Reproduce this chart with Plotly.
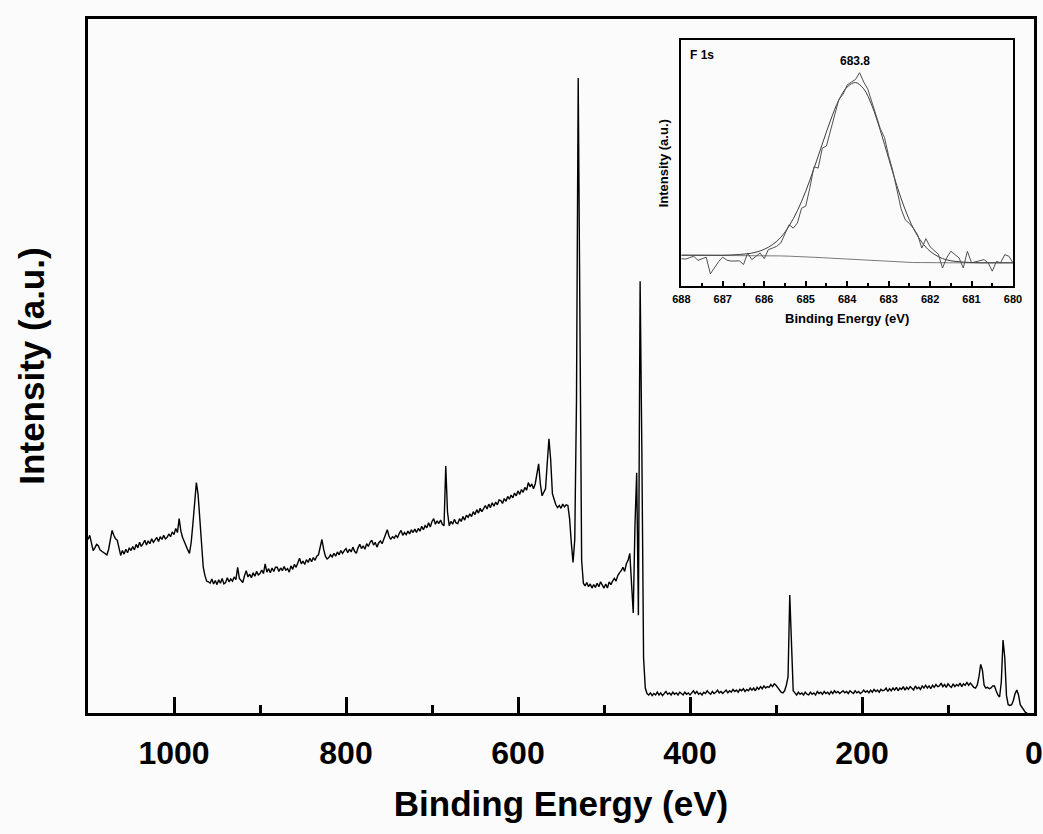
import plotly.graph_objects as go

# ---- Survey spectrum: intensity (a.u.) read at 2 eV steps from 1100 eV down to 8 eV ----
survey_counts = [
    25.0, 25.6, 24.5, 23.4, 23.8, 24.3, 24.1, 23.5, 23.3, 23.1,   # 1100-1082
    22.9, 22.8, 23.6, 25.2, 26.3, 25.6, 25.1, 24.9, 23.6, 22.7,   # 1080-1062
    23.4, 22.9, 23.6, 23.1, 23.8, 23.4, 24.0, 23.5, 24.3, 23.8,   # 1060-1042
    24.6, 24.0, 24.4, 24.9, 24.2, 24.8, 24.4, 25.1, 24.6, 24.9,   # 1040-1022
    25.3, 24.7, 25.4, 25.0, 25.6, 25.1, 25.3, 25.8, 25.4, 26.1,   # 1020-1002
    25.7, 26.6, 26.0, 28.0, 26.2, 25.3, 24.6, 24.0, 23.5, 23.0,   # 1000-982
    24.6, 27.3, 30.5, 33.2, 31.5, 27.5, 24.0, 21.0, 19.8, 19.0,   # 980-962
    18.9, 18.7, 19.3, 18.6, 19.1, 18.5, 19.2, 18.7, 19.4, 18.6,   # 960-942
    18.8, 19.5, 18.9, 19.3, 19.0, 19.6, 19.2, 21.0, 19.4, 19.0,   # 940-922
    18.8, 19.8, 20.5, 19.6, 20.0, 19.5, 20.2, 19.7, 20.4, 19.9,   # 920-902
    20.1, 20.6, 20.1, 21.5, 20.3, 20.8, 20.2, 20.9, 20.4, 21.0,   # 900-882
    21.0, 20.4, 20.9, 20.5, 21.1, 20.6, 20.8, 20.3, 21.2, 20.7,   # 880-862
    21.4, 21.0, 21.6, 22.3, 21.5, 21.9, 21.4, 22.1, 21.7, 22.3,   # 860-842
    21.8, 22.4, 22.0, 22.6, 22.8, 23.8, 25.0, 23.6, 22.6, 22.2,   # 840-822
    22.4, 22.8, 22.5, 23.0, 22.6, 23.2, 22.8, 23.4, 23.0, 23.4,   # 820-802
    23.7, 23.1, 23.6, 23.2, 23.9, 23.3, 23.0, 23.8, 24.3, 23.7,   # 800-782
    24.1, 23.6, 24.4, 24.0, 24.6, 24.9, 24.2, 24.6, 23.9, 24.5,   # 780-762
    24.8, 24.4, 25.0, 25.6, 26.4, 25.5, 25.0, 25.4, 25.2, 25.6,   # 760-742
    25.3, 25.9, 26.3, 25.6, 26.0, 25.7, 26.2, 25.8, 26.4, 26.0,   # 740-722
    26.5, 26.0, 26.6, 26.2, 26.9, 26.4, 27.0, 26.7, 27.4, 26.8,   # 720-702
    27.6, 28.0, 27.2, 27.7, 27.3, 27.8, 27.2, 27.0, 35.6, 29.0,   # 700-682
    27.0, 27.6, 27.2, 27.9, 27.4, 27.3, 28.0, 27.6, 28.3, 27.8,   # 680-662
    28.5, 28.2, 28.7, 28.3, 29.0, 28.6, 29.3, 28.8, 29.5, 29.0,   # 660-642
    29.5, 29.9, 29.4, 30.1, 29.6, 30.3, 29.8, 30.4, 30.0, 30.7,   # 640-622
    30.6, 30.2, 30.9, 30.5, 31.2, 30.8, 31.4, 31.0, 31.7, 31.3,   # 620-602
    32.0, 31.5, 32.2, 31.8, 32.5, 32.1, 33.2, 32.6, 33.0, 32.3,   # 600-582
    33.0, 34.5, 35.9, 33.0, 31.3, 31.8, 32.3, 36.0, 39.5, 36.5,   # 580-562
    31.6, 30.8, 30.0, 29.6, 29.9, 29.5, 30.1, 29.7, 30.0, 29.9,   # 560-542
    28.0, 24.5, 21.7, 25.0, 45.0, 91.5, 55.0, 22.0, 18.7, 18.3,   # 540-522
    18.8, 18.2, 18.6, 18.0, 18.5, 18.1, 18.7, 18.2, 18.9, 18.4,   # 520-502
    18.0, 18.6, 18.0, 18.9, 18.5, 19.0, 19.4, 19.0, 19.8, 20.2,   # 500-482
    20.5, 21.0, 20.4, 21.5, 22.0, 23.0, 18.5, 14.4, 27.0, 34.6,   # 480-462
    14.1, 62.2, 38.0, 8.0, 3.6, 2.8, 2.6, 2.9, 2.5, 2.8,          # 460-442
    2.6, 3.0, 2.6, 2.9, 2.5, 2.8, 3.1, 2.7, 2.9, 2.6,             # 440-422
    3.0, 2.7, 2.9, 2.6, 3.0, 2.8, 2.6, 3.0, 2.7, 2.9,             # 420-402
    2.6, 2.9, 3.2, 2.8, 3.1, 2.7, 2.9, 2.6, 3.0, 2.8,             # 400-382
    3.2, 2.9, 2.7, 3.1, 2.8, 3.0, 3.3, 2.9, 3.1, 2.8,             # 380-362
    3.0, 3.3, 2.9, 3.2, 3.0, 3.4, 3.1, 3.3, 3.0, 3.4,             # 360-342
    3.2, 3.5, 3.1, 3.4, 3.2, 3.6, 3.3, 3.6, 3.2, 3.7,             # 340-322
    3.4, 3.8, 3.5, 3.9, 3.6, 3.8, 3.7, 4.1, 3.8, 4.2,             # 320-302
    4.0, 3.6, 3.3, 3.0, 2.9, 3.2, 4.0, 5.2, 17.0, 9.0,            # 300-282
    3.2, 2.9, 2.6, 3.0, 2.7, 2.9, 2.6, 3.0, 2.7, 2.6,             # 280-262
    3.0, 2.7, 2.9, 2.6, 3.1, 2.8, 3.0, 2.7, 3.1, 2.8,             # 260-242
    3.0, 2.7, 3.1, 2.8, 3.2, 2.9, 3.1, 2.8, 3.0, 3.2,             # 240-222
    2.9, 3.1, 2.8, 3.2, 3.0, 2.8, 3.2, 2.9, 3.1, 2.8,             # 220-202
    3.0, 3.3, 3.0, 3.2, 2.9, 3.3, 3.0, 3.4, 3.1, 3.3,             # 200-182
    3.0, 3.4, 3.2, 3.3, 3.6, 3.1, 3.5, 3.2, 3.6, 3.3,             # 180-162
    3.7, 3.2, 3.6, 3.4, 3.8, 3.3, 3.7, 3.4, 3.8, 3.5,             # 160-142
    3.3, 3.9, 3.5, 3.7, 3.4, 3.9, 3.6, 4.0, 3.6, 3.9,             # 140-122
    3.5, 4.0, 3.7, 4.1, 3.8, 3.9, 4.3, 3.8, 4.1, 3.7,             # 120-102
    4.2, 3.9, 3.7, 4.2, 3.8, 4.1, 3.9, 4.3, 3.8, 4.2,             # 100-82
    4.0, 4.4, 4.0, 4.3, 3.9, 3.7, 3.6, 4.0, 5.2, 7.0,             # 80-62
    6.2, 4.0, 3.6, 3.7, 3.5, 3.6, 3.9, 3.9, 3.2, 2.6,             # 60-42
    2.3, 4.5, 10.5, 8.0, 2.5, 1.2, 1.1, 1.2, 1.8, 2.8,            # 40-22
    3.3, 2.6, 1.2, 0.8, 0.4, 0.1, 0.0,                            # 20-8
]
survey_be = [1100 - 2 * i for i in range(len(survey_counts))]

# ---- Inset: F 1s high-resolution spectrum (0.1 eV steps from 688.0 to 680.0 eV) ----
f1s_raw = [
    11.2, 11.0, 11.6, 12.2, 10.5, 11.2, 11.8, 5.0, 7.5, 10.0,
    11.8, 10.6, 10.2, 10.4, 10.3, 8.8, 13.5, 10.8, 12.0, 13.5,
    11.2, 14.9, 15.5, 16.2, 17.6, 21.0, 25.0, 23.6, 25.7, 31.7,
    32.5, 40.0, 48.6, 48.0, 56.1, 57.0, 63.0, 70.0, 76.0, 78.0,
    81.8, 83.0, 84.0, 86.8, 83.0, 80.0, 74.5, 70.0, 64.0, 60.5,
    53.0, 47.0, 39.5, 31.5, 27.0, 25.5, 23.5, 20.9, 15.5, 19.3,
    16.0, 14.5, 13.0, 7.4, 11.5, 14.2, 12.8, 11.5, 7.4, 14.2,
    9.5, 10.0, 10.4, 10.8, 9.5, 6.1, 10.1, 9.5, 12.8, 12.2,
    9.5,
]
f1s_raw_be = [round(688.0 - 0.1 * i, 1) for i in range(len(f1s_raw))]

# fitted envelope and background, read at 0.2 eV steps from 688.0 to 680.0 eV
f1s_fit = [
    12.6, 12.6, 12.6, 12.6, 12.6, 12.6, 12.7, 12.9, 13.2, 13.8,
    15.0, 16.9, 19.9, 24.5, 30.7, 38.6, 47.9, 57.8, 67.5, 75.7,
    81.0, 82.8, 80.2, 73.3, 63.3, 52.0, 40.8, 31.1, 23.4, 17.9,
    14.2, 12.0, 10.7, 10.1, 9.8, 9.6, 9.5, 9.5, 9.5, 9.5,
    9.5,
]
f1s_bg = [
    12.6, 12.6, 12.6, 12.6, 12.6, 12.6, 12.6, 12.6, 12.5, 12.5,
    12.5, 12.4, 12.3, 12.2, 12.1, 12.0, 11.8, 11.6, 11.4, 11.2,
    11.0, 10.8, 10.6, 10.4, 10.2, 10.0, 9.8, 9.7, 9.6, 9.6,
    9.5, 9.5, 9.5, 9.5, 9.5, 9.5, 9.5, 9.5, 9.5, 9.5,
    9.5,
]
f1s_fit_be = [round(688.0 - 0.2 * i, 1) for i in range(len(f1s_fit))]

main_major_ticks = [1000, 800, 600, 400, 200, 0]
main_minor_ticks = [1100, 900, 700, 500, 300, 100]
inset_major_ticks = [688, 687, 686, 685, 684, 683, 682, 681, 680]
inset_minor_ticks = [687.5, 686.5, 685.5, 684.5, 683.5, 682.5, 681.5, 680.5]

FONT = "Liberation Sans, Arial, Helvetica, sans-serif"
BG = "#fbfbfb"

fig = go.Figure()
fig.add_trace(go.Scatter(x=survey_be, y=survey_counts, mode="lines",
                         line=dict(color="black", width=1.4),
                         xaxis="x", yaxis="y", showlegend=False, hoverinfo="skip"))
fig.add_trace(go.Scatter(x=f1s_fit_be, y=f1s_bg, mode="lines",
                         line=dict(color="#7a7a7a", width=1),
                         xaxis="x2", yaxis="y2", showlegend=False, hoverinfo="skip"))
fig.add_trace(go.Scatter(x=f1s_fit_be, y=f1s_fit, mode="lines",
                         line=dict(color="#3c3c3c", width=1, shape="spline"),
                         xaxis="x2", yaxis="y2", showlegend=False, hoverinfo="skip"))
fig.add_trace(go.Scatter(x=f1s_raw_be, y=f1s_raw, mode="lines",
                         line=dict(color="#505050", width=1),
                         xaxis="x2", yaxis="y2", showlegend=False, hoverinfo="skip"))

fig.update_layout(
    width=1043, height=834, autosize=False,
    margin=dict(l=88, r=0, t=19, b=121, pad=0),
    paper_bgcolor=BG, plot_bgcolor=BG,
    showlegend=False,
    xaxis=dict(
        domain=[0, 1], range=[1100, 0], anchor="y", automargin=False,
        tickmode="array", tickvals=main_major_ticks,
        ticks="inside", ticklen=16, tickwidth=3, tickcolor="black",
        showline=True, linewidth=3, linecolor="black", mirror=True,
        showgrid=False, zeroline=False,
        tickfont=dict(family=FONT, size=32, color="black", weight="bold"),
        ticklabelstandoff=10,
        minor=dict(tickmode="array", tickvals=main_minor_ticks, ticks="inside",
                   ticklen=8, tickwidth=3, tickcolor="black", showgrid=False),
        title=dict(text="Binding Energy (eV)", standoff=22,
                   font=dict(family=FONT, size=35, color="black", weight="bold")),
    ),
    yaxis=dict(
        domain=[0, 1], range=[0, 100], anchor="x", automargin=False,
        showticklabels=False, ticks="",
        showline=True, linewidth=3, linecolor="black", mirror=True,
        showgrid=False, zeroline=False,
        title=dict(text="Intensity (a.u.)", standoff=30,
                   font=dict(family=FONT, size=35, color="black", weight="bold")),
    ),
    xaxis2=dict(
        domain=[0.6272, 0.9778], range=[688, 680], anchor="y2",
        tickmode="array", tickvals=inset_major_ticks,
        ticks="inside", ticklen=5, tickwidth=1.5, tickcolor="black",
        showline=True, linewidth=1.5, linecolor="black", mirror=True,
        showgrid=False, zeroline=False,
        tickfont=dict(family=FONT, size=11, color="black", weight="bold"),
        ticklabelstandoff=2,
        minor=dict(tickmode="array", tickvals=inset_minor_ticks, ticks="inside",
                   ticklen=3, tickwidth=1.5, tickcolor="black", showgrid=False),
        title=dict(text="Binding Energy (eV)", standoff=10,
                   font=dict(family=FONT, size=13, color="black", weight="bold")),
    ),
    yaxis2=dict(
        domain=[0.615, 0.9694], range=[0, 100], anchor="x2",
        showticklabels=False, ticks="",
        showline=True, linewidth=1.5, linecolor="black", mirror=True,
        showgrid=False, zeroline=False,
        title=dict(text="Intensity (a.u.)", standoff=8,
                   font=dict(family=FONT, size=13, color="black", weight="bold")),
    ),
    annotations=[
        dict(text="F 1s", x=687.85, y=94.0, xref="x2", yref="y2",
             xanchor="left", yanchor="middle", showarrow=False,
             font=dict(family=FONT, size=12, color="black", weight="bold")),
        dict(text="683.8", x=683.8, y=91.6, xref="x2", yref="y2",
             xanchor="center", yanchor="middle", showarrow=False,
             font=dict(family=FONT, size=12, color="black", weight="bold")),
    ],
)

fig.write_html("out.html")
